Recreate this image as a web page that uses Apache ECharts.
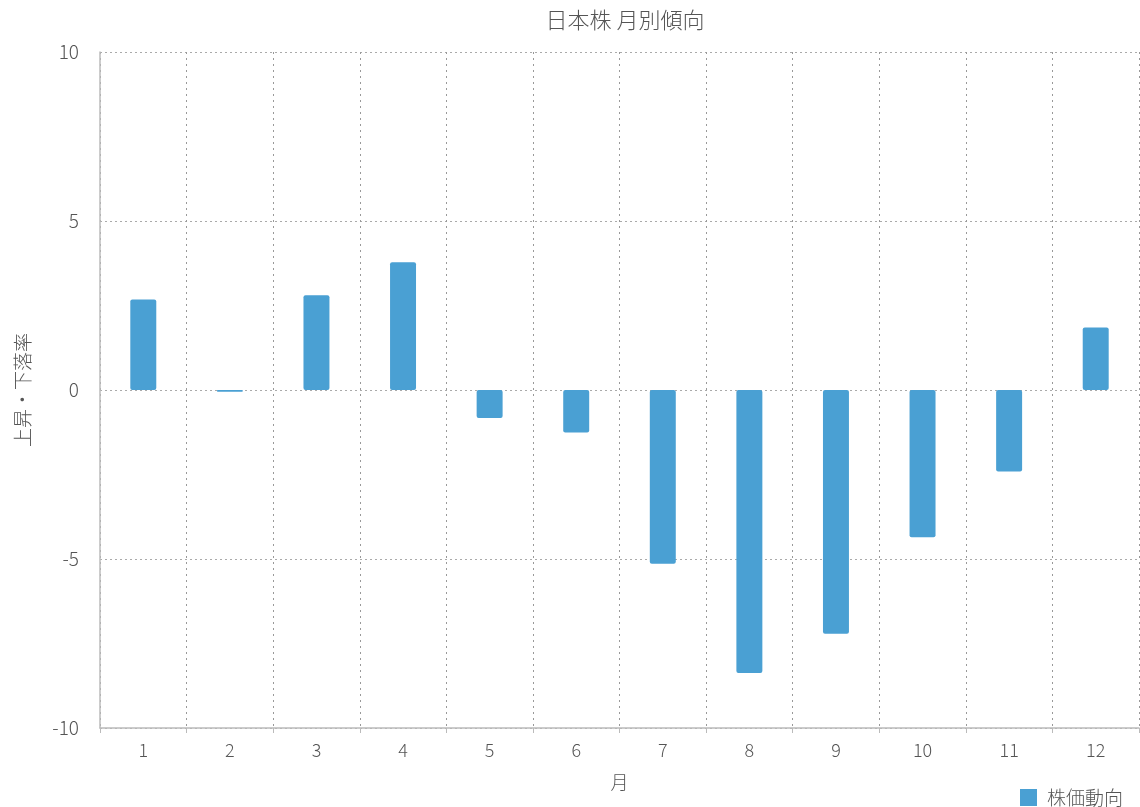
<!DOCTYPE html>
<html><head><meta charset="utf-8">
<script src="https://cdn.jsdelivr.net/npm/echarts@6/dist/echarts.min.js"></script>
<style>html,body{margin:0;padding:0;background:#fff}#c{width:1140px;height:807px}</style>
</head><body><div id="c"></div>
<script>
const months = ['1','2','3','4','5','6','7','8','9','10','11','12'];
const changes = [2.68, -0.05, 2.8, 3.78, -0.83, -1.26, -5.14, -8.37, -7.21, -4.36, -2.41, 1.85];
const yTicks = [-10, -5, 0, 5, 10];
const font = '"Noto Sans CJK JP", "Noto Sans", sans-serif';
const txt = '#555';
const chart = echarts.init(document.getElementById('c'));
chart.setOption({
  animation: false,
  textStyle: { fontFamily: font },
  title: { text: '日本株 月別傾向', left: 620, top: 4, textAlign: 'center',
    textStyle: { fontSize: 22, fontWeight: 300, color: txt, fontFamily: font } },
  legend: { data: ['株価動向'], right: 12, bottom: -5, itemWidth: 17, itemHeight: 17, itemGap: 10, icon: 'rect',
    textStyle: { fontSize: 19, fontWeight: 300, color: txt, fontFamily: font, padding: [0, 0, 0, 5] } },
  grid: { left: 100, right: 1, top: 52, bottom: 79, containLabel: false },
  xAxis: {
    type: 'category', data: months, name: '月', nameLocation: 'middle', nameGap: 45,
    nameTextStyle: { fontSize: 18, fontWeight: 300, color: txt },
    axisLine: { onZero: false, lineStyle: { color: '#bbb', width: 1.5 } },
    axisTick: { show: true, length: 5, lineStyle: { color: '#bbb' } },
    axisLabel: { fontSize: 18, fontWeight: 300, color: txt, margin: 13 },
    splitLine: { show: true, lineStyle: { type: [2, 4], color: '#999' } }
  },
  yAxis: {
    type: 'value', min: yTicks[0], max: yTicks[yTicks.length - 1], interval: 5,
    name: '上昇・下落率', nameLocation: 'middle', nameGap: 68, nameRotate: 90,
    nameTextStyle: { fontSize: 19, fontWeight: 300, color: txt },
    axisLine: { show: true, lineStyle: { color: '#bbb', width: 1.5 } },
    axisTick: { show: false },
    axisLabel: { fontSize: 19, fontWeight: 300, color: txt, margin: 21 },
    splitLine: { show: true, lineStyle: { type: [2, 3], color: '#aaa' } }
  },
  series: [{
    name: '株価動向', type: 'bar', data: changes, barWidth: '30%',
    itemStyle: { color: '#4aa0d3', borderRadius: 2 }
  }]
});
</script></body></html>
